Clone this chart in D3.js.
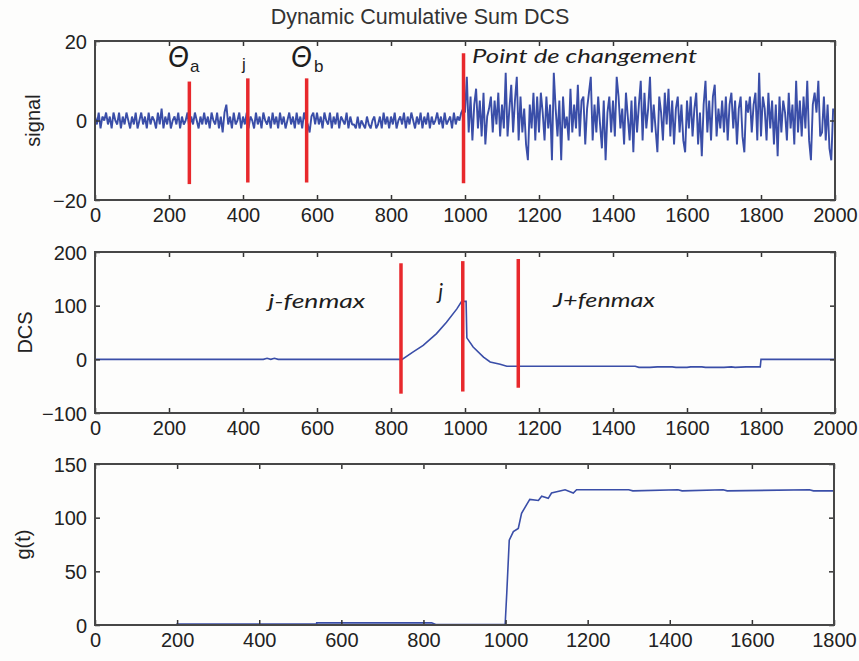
<!DOCTYPE html>
<html><head><meta charset="utf-8">
<script src="https://cdn.jsdelivr.net/npm/d3@7"></script>
<style>
html,body{margin:0;padding:0;background:#fdfdfc;}
svg{display:block;}
.tick text{font-family:"Liberation Sans",Arial,sans-serif;font-size:20px;fill:#222;}
.tick line{stroke:#333;stroke-width:1.5;}
.ann{font-family:Lato,"Open Sans",sans-serif;font-style:italic;fill:#1e1e1e;}
</style></head><body>
<svg id="chart" width="859" height="661"></svg>
<script>
// ---------------- data ----------------
const title = "Dynamic Cumulative Sum DCS";

// signal samples, every 5th index, 0..995 (before change point)
const signalBefore = [
 1,-1,2,-2,1,0,2,-1,1,-2,2,0,-1,2,-2,1,-1,2,0,-2,
 1,-1,2,-2,0,2,-1,1,-2,2,-1,1,0,-2,2,-1,3,-2,1,-1,
 2,-2,0,1,-1,2,-2,1,-1,0,2,-2,1,-1,2,0,-2,1,-1,2,
 -1,1,-2,2,0,-1,2,-2,1,-3,2,4,-1,1,-2,2,-1,0,2,-2,
 1,-1,2,-2,1,0,-2,2,-1,1,-2,2,0,-1,1,-2,2,-1,1,-2,
 2,-1,1,-2,0,2,-1,1,-2,2,-1,1,-2,2,0,-1,-3,1,2,-1,
 2,-1,1,-2,2,0,-1,2,-2,1,-1,2,-2,1,0,-1,2,-2,1,-1,
 -1,-2,1,-2,0,-1,-2,1,-1,-2,0,1,-2,-1,1,-2,2,-1,1,-2,
 1,-1,2,-2,0,1,-1,2,-2,1,-1,2,0,-2,1,-1,2,-2,1,-1,
 2,-2,1,-1,0,2,-1,1,-2,2,-1,0,1,-2,2,-1,1,0,2,3
];
// signal samples, every 5th index, 1000..1995 (after change point)
const signalAfter = [
 2,11,-3,6,-5,4,8,-2,5,-4,7,-6,1,3,6,-3,5,-1,7,-4,
 4,-2,12,-4,3,9,-3,5,11,-5,6,-3,3,-6,-10,4,-2,7,-5,6,
 -3,7,2,-5,6,-2,4,-10,12,3,-4,5,-10,6,-2,1,-5,8,-3,4,
 -2,9,-4,5,6,-6,3,7,11,-5,4,-3,6,-1,-7,5,-10,2,6,-3,
 5,-4,11,6,-2,3,-6,7,1,-5,5,-8,6,-3,4,10,-5,7,-2,3,
 11,-3,4,-2,-8,6,2,-5,7,-1,8,-4,5,-6,3,6,-3,4,-5,-8,
 5,-2,6,-4,3,7,-6,2,-9,4,10,-3,5,-5,6,9,-4,3,-2,5,
 -3,6,-5,4,7,-2,5,-6,3,6,-4,-8,5,2,6,-3,4,7,-5,12,
 -4,6,3,-5,7,-2,5,-6,4,-9,6,-3,5,2,-5,7,-2,4,-6,10,
 -3,5,-4,6,-2,10,-5,-10,4,7,2,10,-4,-3,6,-5,4,-7,-10,3
];
const sampleStep = 5;
const changeIndex = 1000;

// DCS curve
const dcsX = [0,455,465,475,485,495,830,860,887,923,950,978,991,1003,1005,1022,1050,1068,1095,1113,1460,1470,1500,1520,1560,1570,1600,1610,1640,1650,1700,1720,1730,1760,1798,1800,2000];
const dcsY = [0,0,2,0,2,0,0,14,26,48,69,94,108,108,40,23,4,-5,-9,-13,-13,-15,-15,-14,-14,-15,-15,-14,-14,-15,-15,-14,-15,-14,-14,0,0];

// g(t) curve
const gX = [0,200,200,540,540,820,830,999,1003,1009,1019,1031,1039,1051,1059,1080,1088,1104,1112,1145,1165,1173,1300,1310,1420,1430,1530,1540,1740,1750,1800];
const gY = [0,0,1,1,2,2,0.5,0.5,30,79,87,90,104,112,117,116,120,118,123,126,123,126,126,125,126,125,126,125,126,125,125];

// red marker lines [x, yTop, yBottom]
const topMarkers = [[255,9.8,-16],[413,10.6,-15.6],[572,10.6,-15.6],[996,16.9,-15.8]];
const midMarkers = [[827,179,-64],[994,183,-60],[1144,187,-53]];

// axis ticks
const xTicks2000 = [0,200,400,600,800,1000,1200,1400,1600,1800,2000];
const xTicks1800 = [0,200,400,600,800,1000,1200,1400,1600,1800];
const yTicksSignal = [-20,0,20];
const yTicksDCS = [-100,0,100,200];
const yTicksG = [0,50,100,150];
const yLabels = ["signal","DCS","g(t)"];

// ---------------- drawing ----------------
const svg = d3.select("#chart");
const L = 95;
const BLUE = "#3a4ea8", RED = "#e8282c";

const panels = [
  {top:41, bottom:200, xd:[0,2000], yd:[-20,20], xt:xTicks2000, yt:yTicksSignal, label:yLabels[0], lx:40, right:835},
  {top:252, bottom:413, xd:[0,2000], yd:[-100,200], xt:xTicks2000, yt:yTicksDCS, label:yLabels[1], lx:32, right:835},
  {top:464, bottom:625, xd:[0,1800], yd:[0,150], xt:xTicks1800, yt:yTicksG, label:yLabels[2], lx:30, right:834}
];

panels.forEach((p,i) => {
  p.x = d3.scaleLinear().domain(p.xd).range([L,p.right]);
  p.y = d3.scaleLinear().domain(p.yd).range([p.bottom,p.top]);
  const g = svg.append("g");
  p.g = g;
  const cid = "clip"+i;
  svg.append("clipPath").attr("id",cid).append("rect")
    .attr("x",L).attr("y",p.top).attr("width",p.right-L).attr("height",p.bottom-p.top);
  p.plot = g.append("g").attr("clip-path",`url(#${cid})`);

  const ab = g.append("g").attr("transform",`translate(0,${p.bottom})`)
    .call(d3.axisBottom(p.x).tickValues(p.xt).tickSizeInner(-5).tickSizeOuter(0).tickPadding(8).tickFormat(d3.format("d")));
  const at = g.append("g").attr("transform",`translate(0,${p.top})`)
    .call(d3.axisTop(p.x).tickValues(p.xt).tickSizeInner(-5).tickSizeOuter(0).tickFormat(""));
  const al = g.append("g").attr("transform",`translate(${L},0)`)
    .call(d3.axisLeft(p.y).tickValues(p.yt).tickSizeInner(-5).tickSizeOuter(0).tickPadding(8).tickFormat(d3.format("d")));
  const ar = g.append("g").attr("transform",`translate(${p.right},0)`)
    .call(d3.axisRight(p.y).tickValues(p.yt).tickSizeInner(-5).tickSizeOuter(0).tickFormat(""));
  [ab,at,al,ar].forEach(a => { a.select(".domain").remove(); a.attr("font-family",null).attr("font-size",null); });
  al.selectAll(".tick text").attr("dy","0.36em");

  g.append("rect").attr("x",L).attr("y",p.top).attr("width",p.right-L).attr("height",p.bottom-p.top)
    .attr("fill","none").attr("stroke","#474747").attr("stroke-width",2);

  g.append("text").text(p.label)
    .attr("transform",`translate(${p.lx},${(p.top+p.bottom)/2}) rotate(-90)`)
    .attr("text-anchor","middle")
    .attr("font-family","Liberation Sans, Arial, sans-serif").attr("font-size",20).attr("fill","#222");
});

// title
svg.append("text").text(title).attr("x",420).attr("y",24).attr("text-anchor","middle")
  .attr("font-family","Liberation Sans, Arial, sans-serif").attr("font-size",21.5).attr("fill","#333");

// ---- panel 1: signal ----
const p1 = panels[0];
const sigPts = signalBefore.map((v,i)=>[i*sampleStep,v])
  .concat(signalAfter.map((v,i)=>[changeIndex+i*sampleStep,v]));
p1.plot.append("path").datum(sigPts)
  .attr("d", d3.line().x(d=>p1.x(d[0])).y(d=>p1.y(d[1])))
  .attr("fill","none").attr("stroke",BLUE).attr("stroke-width",1.9).attr("stroke-linejoin","bevel");
p1.g.selectAll("line.mk").data(topMarkers).enter().append("line")
  .attr("x1",d=>p1.x(d[0])).attr("x2",d=>p1.x(d[0]))
  .attr("y1",d=>p1.y(d[1])).attr("y2",d=>p1.y(d[2]))
  .attr("stroke",RED).attr("stroke-width",3.5);

// annotations panel 1
const a1 = p1.g.append("g");
a1.append("text").attr("class","ann").attr("x",p1.x(197)).attr("y",p1.y(13.5)).attr("font-size",28).text("Θ");
a1.append("text").attr("x",p1.x(257)).attr("y",p1.y(12.2)).attr("font-size",17)
  .attr("font-family","Liberation Sans, Arial, sans-serif").attr("fill","#1e1e1e").text("a");
a1.append("text").attr("x",p1.x(397)).attr("y",p1.y(12.7)).attr("font-size",17)
  .attr("font-family","Liberation Sans, Arial, sans-serif").attr("fill","#1e1e1e").text("j");
a1.append("text").attr("class","ann").attr("x",p1.x(530)).attr("y",p1.y(13.5)).attr("font-size",28).text("Θ");
a1.append("text").attr("x",p1.x(592)).attr("y",p1.y(12.2)).attr("font-size",17)
  .attr("font-family","Liberation Sans, Arial, sans-serif").attr("fill","#1e1e1e").text("b");
a1.append("text").attr("class","ann").attr("x",p1.x(1019)).attr("y",p1.y(14.4)).attr("font-size",20)
  .attr("textLength",225).attr("lengthAdjust","spacingAndGlyphs").text("Point de changement");

// ---- panel 2: DCS ----
const p2 = panels[1];
p2.plot.append("path").datum(dcsX.map((v,i)=>[v,dcsY[i]]))
  .attr("d", d3.line().x(d=>p2.x(d[0])).y(d=>p2.y(d[1])))
  .attr("fill","none").attr("stroke",BLUE).attr("stroke-width",1.6);
p2.g.selectAll("line.mk").data(midMarkers).enter().append("line")
  .attr("x1",d=>p2.x(d[0])).attr("x2",d=>p2.x(d[0]))
  .attr("y1",d=>p2.y(d[1])).attr("y2",d=>p2.y(d[2]))
  .attr("stroke",RED).attr("stroke-width",3.5);
const a2 = p2.g.append("g");
a2.append("text").attr("class","ann").attr("x",p2.x(468)).attr("y",p2.y(95)).attr("font-size",20)
  .attr("textLength",97).attr("lengthAdjust","spacingAndGlyphs").text("j-fenmax");
a2.append("text").attr("class","ann").attr("x",p2.x(928)).attr("y",p2.y(113)).attr("font-size",21).text("j");
a2.append("text").attr("class","ann").attr("x",p2.x(1238)).attr("y",p2.y(97)).attr("font-size",20)
  .attr("textLength",102).attr("lengthAdjust","spacingAndGlyphs").text("J+fenmax");

// ---- panel 3: g(t) ----
const p3 = panels[2];
p3.plot.append("path").datum(gX.map((v,i)=>[v,gY[i]]))
  .attr("d", d3.line().x(d=>p3.x(d[0])).y(d=>p3.y(d[1])))
  .attr("fill","none").attr("stroke",BLUE).attr("stroke-width",1.6);
</script>
</body></html>
